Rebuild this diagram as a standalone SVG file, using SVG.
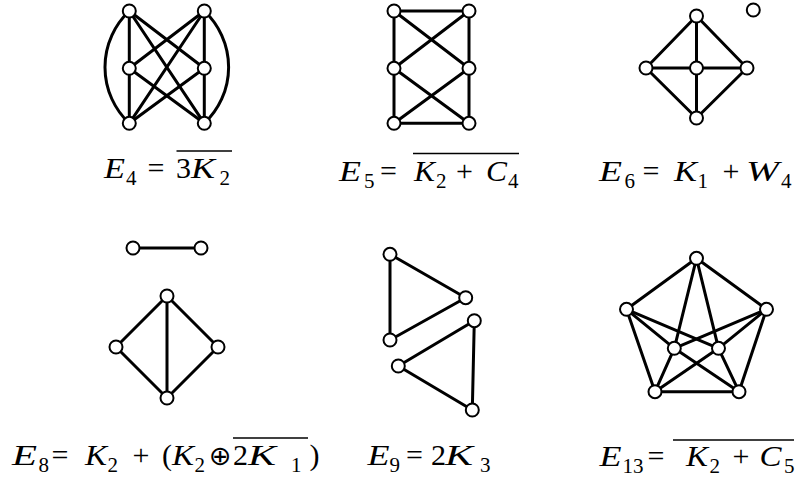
<svg xmlns="http://www.w3.org/2000/svg" width="796" height="481" viewBox="0 0 796 481">
<style>
.e{stroke:#000;stroke-width:3;fill:none;stroke-linecap:round}
.n{fill:#fff;stroke:#000;stroke-width:2}
.t{font-family:"Liberation Serif","Times New Roman",serif;font-size:30px;fill:#000}
.i{font-style:italic}
.s{font-size:21px}
.op{font-family:"DejaVu Sans",sans-serif;font-size:27px}
.ol{stroke:#000;stroke-width:1.3}
</style>
<rect width="796" height="481" fill="#fff"/>
<g id="connectors">
<line class="e" x1="129.3" y1="11" x2="129.3" y2="68.3"/>
<line class="e" x1="129.3" y1="68.3" x2="129.3" y2="123.3"/>
<line class="e" x1="204.3" y1="11" x2="204.3" y2="68.3"/>
<line class="e" x1="204.3" y1="68.3" x2="204.3" y2="123.3"/>
<path class="e" d="M129.3,11 A77 77 0 0 0 129.3,123.3"/>
<path class="e" d="M204.3,11 A77 77 0 0 1 204.3,123.3"/>
<line class="e" x1="129.3" y1="11" x2="204.3" y2="68.3"/>
<line class="e" x1="129.3" y1="11" x2="204.3" y2="123.3"/>
<line class="e" x1="129.3" y1="68.3" x2="204.3" y2="11"/>
<line class="e" x1="129.3" y1="68.3" x2="204.3" y2="123.3"/>
<line class="e" x1="129.3" y1="123.3" x2="204.3" y2="11"/>
<line class="e" x1="129.3" y1="123.3" x2="204.3" y2="68.3"/>
<line class="e" x1="394" y1="11" x2="469" y2="11"/>
<line class="e" x1="394" y1="11" x2="394" y2="68.3"/>
<line class="e" x1="394" y1="68.3" x2="394" y2="123.3"/>
<line class="e" x1="469" y1="11" x2="469" y2="68.3"/>
<line class="e" x1="469" y1="68.3" x2="469" y2="123.3"/>
<line class="e" x1="394" y1="123.3" x2="469" y2="123.3"/>
<line class="e" x1="394" y1="11" x2="469" y2="68.3"/>
<line class="e" x1="469" y1="11" x2="394" y2="68.3"/>
<line class="e" x1="394" y1="68.3" x2="469" y2="123.3"/>
<line class="e" x1="469" y1="68.3" x2="394" y2="123.3"/>
<line class="e" x1="696.5" y1="16" x2="646" y2="68"/>
<line class="e" x1="696.5" y1="16" x2="747" y2="68"/>
<line class="e" x1="646" y1="68" x2="696.5" y2="118"/>
<line class="e" x1="747" y1="68" x2="696.5" y2="118"/>
<line class="e" x1="646" y1="68" x2="747" y2="68"/>
<line class="e" x1="696.5" y1="16" x2="696.5" y2="118"/>
<line class="e" x1="133" y1="248" x2="201" y2="248"/>
<line class="e" x1="167" y1="296" x2="116" y2="347"/>
<line class="e" x1="167" y1="296" x2="218" y2="347"/>
<line class="e" x1="116" y1="347" x2="167" y2="398"/>
<line class="e" x1="218" y1="347" x2="167" y2="398"/>
<line class="e" x1="167" y1="296" x2="167" y2="398"/>
<line class="e" x1="390" y1="254.3" x2="465.7" y2="297.7"/>
<line class="e" x1="390" y1="254.3" x2="390" y2="340"/>
<line class="e" x1="465.7" y1="297.7" x2="390" y2="340"/>
<line class="e" x1="474.3" y1="320.7" x2="398.3" y2="366"/>
<line class="e" x1="474.3" y1="320.7" x2="472.3" y2="410"/>
<line class="e" x1="398.3" y1="366" x2="472.3" y2="410"/>
<line class="e" x1="696.5" y1="258.3" x2="626.5" y2="309.3"/>
<line class="e" x1="696.5" y1="258.3" x2="766.5" y2="309.3"/>
<line class="e" x1="626.5" y1="309.3" x2="655" y2="391.7"/>
<line class="e" x1="766.5" y1="309.3" x2="739" y2="391.7"/>
<line class="e" x1="655" y1="391.7" x2="739" y2="391.7"/>
<line class="e" x1="696.5" y1="258.3" x2="674.3" y2="348.3"/>
<line class="e" x1="696.5" y1="258.3" x2="718.5" y2="348.3"/>
<line class="e" x1="626.5" y1="309.3" x2="674.3" y2="348.3"/>
<line class="e" x1="626.5" y1="309.3" x2="718.5" y2="348.3"/>
<line class="e" x1="766.5" y1="309.3" x2="674.3" y2="348.3"/>
<line class="e" x1="766.5" y1="309.3" x2="718.5" y2="348.3"/>
<line class="e" x1="655" y1="391.7" x2="674.3" y2="348.3"/>
<line class="e" x1="655" y1="391.7" x2="718.5" y2="348.3"/>
<line class="e" x1="739" y1="391.7" x2="674.3" y2="348.3"/>
<line class="e" x1="739" y1="391.7" x2="718.5" y2="348.3"/>
</g>
<g id="nodes">
<g id="e4-1"><circle class="n" cx="129.3" cy="11" r="6.5"/></g>
<g id="e4-2"><circle class="n" cx="204.3" cy="11" r="6.5"/></g>
<g id="e4-3"><circle class="n" cx="129.3" cy="68.3" r="6.5"/></g>
<g id="e4-4"><circle class="n" cx="204.3" cy="68.3" r="6.5"/></g>
<g id="e4-5"><circle class="n" cx="129.3" cy="123.3" r="6.5"/></g>
<g id="e4-6"><circle class="n" cx="204.3" cy="123.3" r="6.5"/></g>
<g id="e5-1"><circle class="n" cx="394" cy="11" r="6.5"/></g>
<g id="e5-2"><circle class="n" cx="469" cy="11" r="6.5"/></g>
<g id="e5-3"><circle class="n" cx="394" cy="68.3" r="6.5"/></g>
<g id="e5-4"><circle class="n" cx="469" cy="68.3" r="6.5"/></g>
<g id="e5-5"><circle class="n" cx="394" cy="123.3" r="6.5"/></g>
<g id="e5-6"><circle class="n" cx="469" cy="123.3" r="6.5"/></g>
<g id="e6-1"><circle class="n" cx="696.5" cy="16" r="6.5"/></g>
<g id="e6-2"><circle class="n" cx="646" cy="68" r="6.5"/></g>
<g id="e6-3"><circle class="n" cx="696.5" cy="68" r="6.5"/></g>
<g id="e6-4"><circle class="n" cx="747" cy="68" r="6.5"/></g>
<g id="e6-5"><circle class="n" cx="696.5" cy="118" r="6.5"/></g>
<g id="e6-6"><circle class="n" cx="753.3" cy="10" r="6.5"/></g>
<g id="e8-1"><circle class="n" cx="133" cy="248" r="6.5"/></g>
<g id="e8-2"><circle class="n" cx="201" cy="248" r="6.5"/></g>
<g id="e8-3"><circle class="n" cx="167" cy="296" r="6.5"/></g>
<g id="e8-4"><circle class="n" cx="116" cy="347" r="6.5"/></g>
<g id="e8-5"><circle class="n" cx="218" cy="347" r="6.5"/></g>
<g id="e8-6"><circle class="n" cx="167" cy="398" r="6.5"/></g>
<g id="e9-1"><circle class="n" cx="390" cy="254.3" r="6.5"/></g>
<g id="e9-2"><circle class="n" cx="465.7" cy="297.7" r="6.5"/></g>
<g id="e9-3"><circle class="n" cx="390" cy="340" r="6.5"/></g>
<g id="e9-4"><circle class="n" cx="474.3" cy="320.7" r="6.5"/></g>
<g id="e9-5"><circle class="n" cx="398.3" cy="366" r="6.5"/></g>
<g id="e9-6"><circle class="n" cx="472.3" cy="410" r="6.5"/></g>
<g id="e13-1"><circle class="n" cx="696.5" cy="258.3" r="6.5"/></g>
<g id="e13-2"><circle class="n" cx="626.5" cy="309.3" r="6.5"/></g>
<g id="e13-3"><circle class="n" cx="766.5" cy="309.3" r="6.5"/></g>
<g id="e13-4"><circle class="n" cx="674.3" cy="348.3" r="6.5"/></g>
<g id="e13-5"><circle class="n" cx="718.5" cy="348.3" r="6.5"/></g>
<g id="e13-6"><circle class="n" cx="655" cy="391.7" r="6.5"/></g>
<g id="e13-7"><circle class="n" cx="739" cy="391.7" r="6.5"/></g>
</g>
<g id="labels">
<g id="label-e4">
<text class="t" y="178"><tspan class="i" x="104" textLength="21" lengthAdjust="spacingAndGlyphs">E</tspan><tspan class="s" x="126" y="184.5">4</tspan><tspan x="147.5" y="178">=</tspan><tspan x="176">3</tspan><tspan class="i" x="191" textLength="24" lengthAdjust="spacingAndGlyphs">K</tspan><tspan class="s" x="219.5" y="184.5">2</tspan></text>
<line class="ol" x1="176.5" y1="151" x2="232" y2="151"/>
</g>
<g id="label-e5">
<text class="t" y="181"><tspan class="i" x="339" textLength="22" lengthAdjust="spacingAndGlyphs">E</tspan><tspan class="s" x="364" y="187.5">5</tspan><tspan x="380" y="181">=</tspan><tspan class="i" x="414" textLength="21" lengthAdjust="spacingAndGlyphs">K</tspan><tspan class="s" x="436" y="187.5">2</tspan><tspan x="456" y="181">+</tspan><tspan class="i" x="486" textLength="21" lengthAdjust="spacingAndGlyphs">C</tspan><tspan class="s" x="508" y="187.5">4</tspan></text>
<line class="ol" x1="413" y1="153.5" x2="519" y2="153.5"/>
</g>
<g id="label-e6">
<text class="t" y="181"><tspan class="i" x="599" textLength="23" lengthAdjust="spacingAndGlyphs">E</tspan><tspan class="s" x="624.5" y="187.5">6</tspan><tspan x="642.5" y="181">=</tspan><tspan class="i" x="674" textLength="23" lengthAdjust="spacingAndGlyphs">K</tspan><tspan class="s" x="697.5" y="187.5">1</tspan><tspan x="722.5" y="181">+</tspan><tspan class="i" x="746" textLength="33" lengthAdjust="spacingAndGlyphs">W</tspan><tspan class="s" x="781" y="187.5">4</tspan></text>
</g>
<g id="label-e8">
<text class="t" y="465"><tspan class="i" x="12" textLength="25" lengthAdjust="spacingAndGlyphs">E</tspan><tspan class="s" x="38.5" y="471.5">8</tspan><tspan x="51.5" y="465">=</tspan><tspan class="i" x="85" textLength="22" lengthAdjust="spacingAndGlyphs">K</tspan><tspan class="s" x="107.5" y="471.5">2</tspan><tspan x="132.5" y="465">+</tspan><tspan x="162">(</tspan><tspan class="i" x="172" textLength="22" lengthAdjust="spacingAndGlyphs">K</tspan><tspan class="s" x="194.5" y="471.5">2</tspan><tspan class="op" x="209" y="465">⊕</tspan><tspan x="233" y="465">2</tspan><tspan class="i" x="248" textLength="28" lengthAdjust="spacingAndGlyphs">K</tspan><tspan class="s" x="291" y="471.5">1</tspan><tspan x="309.5" y="465">)</tspan></text>
<line class="ol" x1="233" y1="438" x2="308" y2="438"/>
</g>
<g id="label-e9">
<text class="t" y="465"><tspan class="i" x="367.5" textLength="22" lengthAdjust="spacingAndGlyphs">E</tspan><tspan class="s" x="389.5" y="471.5">9</tspan><tspan x="406" y="465">=</tspan><tspan x="431">2</tspan><tspan class="i" x="445" textLength="28" lengthAdjust="spacingAndGlyphs">K</tspan><tspan class="s" x="480" y="471.5">3</tspan></text>
</g>
<g id="label-e13">
<text class="t" y="466"><tspan class="i" x="599.5" textLength="22" lengthAdjust="spacingAndGlyphs">E</tspan><tspan class="s" x="622.5" y="472.5">13</tspan><tspan x="647.5" y="466">=</tspan><tspan class="i" x="686" textLength="22" lengthAdjust="spacingAndGlyphs">K</tspan><tspan class="s" x="709.5" y="472.5">2</tspan><tspan x="732.5" y="466">+</tspan><tspan class="i" x="759.5" textLength="22" lengthAdjust="spacingAndGlyphs">C</tspan><tspan class="s" x="784" y="472.5">5</tspan></text>
<line class="ol" x1="673" y1="440" x2="794" y2="440"/>
</g>
</g>
</svg>
